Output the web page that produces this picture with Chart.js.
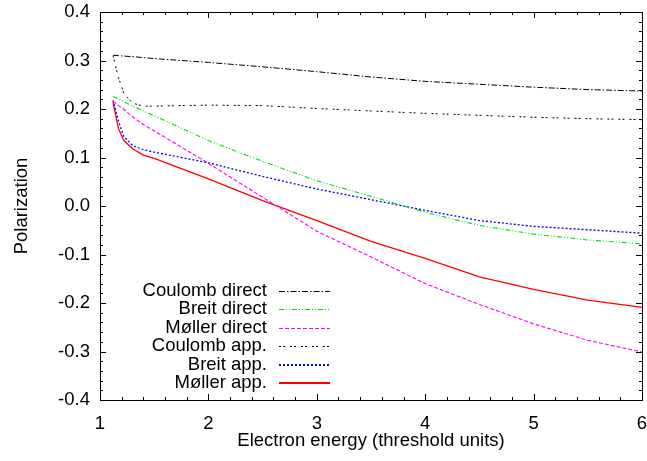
<!DOCTYPE html>
<html>
<head>
<meta charset="utf-8">
<script src="https://cdn.jsdelivr.net/npm/chart.js@4.4.1/dist/chart.umd.min.js"></script>
<style>
html,body{margin:0;padding:0;background:#fff;}
#wrap{width:647px;height:461px;}
</style>
</head>
<body>
<div id="wrap"><canvas id="c" width="647" height="461"></canvas></div>
<script>
// ---- data ----
const energy        = [1.12, 1.17, 1.22, 1.3, 1.4, 1.5, 2, 2.5, 3, 3.5, 4, 4.5, 5, 5.5, 6];
const coulombDirect = [0.311, 0.310, 0.309, 0.308, 0.306, 0.304, 0.296, 0.287, 0.277, 0.266, 0.257, 0.251, 0.245, 0.240, 0.237];
const breitDirect   = [0.226, 0.221, 0.215, 0.206, 0.196, 0.186, 0.135, 0.092, 0.052, 0.020, -0.013, -0.040, -0.058, -0.070, -0.078];
const mollerDirect  = [0.216, 0.207, 0.199, 0.184, 0.168, 0.155, 0.088, 0.018, -0.052, -0.105, -0.160, -0.203, -0.243, -0.277, -0.301];
const coulombApp    = [0.310, 0.265, 0.232, 0.212, 0.206, 0.206, 0.208, 0.207, 0.201, 0.196, 0.191, 0.187, 0.183, 0.180, 0.178];
const breitApp      = [0.218, 0.175, 0.143, 0.125, 0.116, 0.111, 0.089, 0.061, 0.035, 0.013, -0.009, -0.030, -0.042, -0.049, -0.056];
const mollerApp     = [0.214, 0.160, 0.135, 0.118, 0.105, 0.098, 0.056, 0.011, -0.030, -0.073, -0.108, -0.146, -0.172, -0.194, -0.209];
const seriesNames   = ["Coulomb direct", "Breit direct", "M\u00f8ller direct", "Coulomb app.", "Breit app.", "M\u00f8ller app."];
const xTicks        = [1, 2, 3, 4, 5, 6];
const yTicks        = [-0.4, -0.3, -0.2, -0.1, 0.0, 0.1, 0.2, 0.3, 0.4];
const xTitle        = "Electron energy (threshold units)";
const yTitle        = "Polarization";

const FONT = "'Liberation Sans', Arial, Helvetica, sans-serif";
const FSIZE = 18.5;
const seriesValues = [coulombDirect, breitDirect, mollerDirect, coulombApp, breitApp, mollerApp];
const styles = [
  {color:'#000000', dash:[6,2,1.5,2], width:1},
  {color:'#00e000', dash:[5,2,1,2,1,2], width:1.1},
  {color:'#ff00ff', dash:[4,2], width:1.1},
  {color:'#000000', dash:[2,2,2,5], width:1},
  {color:'#0000ff', dash:[2,2], width:1.3},
  {color:'#ff0000', dash:[], width:1.3}
];

const datasets = seriesValues.map((vals, i) => ({
  label: seriesNames[i],
  data: energy.map((x, j) => ({x: x, y: vals[j]})),
  borderColor: styles[i].color,
  borderDash: styles[i].dash,
  borderWidth: styles[i].width,
  pointRadius: 0,
  tension: 0,
  fill: false
}));

// frame + inward ticks (gnuplot style)
const framePlugin = {
  id: 'frame',
  afterDatasetsDraw(chart) {
    const {ctx, chartArea: a, scales: {x, y}} = chart;
    ctx.save();
    ctx.strokeStyle = '#000';
    ctx.lineWidth = 1;
    ctx.setLineDash([]);
    ctx.beginPath();
    const maj = 6, mnr = 3;
    for (let k = 0; k <= 25; k++) {
      const v = 1 + k * 0.2;
      const px = Math.round(x.getPixelForValue(v)) + 0.5;
      const L = (k % 5 === 0) ? maj : mnr;
      ctx.moveTo(px, a.bottom); ctx.lineTo(px, a.bottom - L);
      ctx.moveTo(px, a.top); ctx.lineTo(px, a.top + L);
    }
    for (let k = 0; k <= 40; k++) {
      const v = -0.4 + k * 0.02;
      const py = Math.round(y.getPixelForValue(v)) + 0.5;
      const L = (k % 5 === 0) ? maj : mnr;
      ctx.moveTo(a.left, py); ctx.lineTo(a.left + L, py);
      ctx.moveTo(a.right, py); ctx.lineTo(a.right - L, py);
    }
    ctx.stroke();
    ctx.strokeRect(Math.round(a.left) + 0.5, Math.round(a.top) + 0.5,
                   Math.round(a.right - a.left), Math.round(a.bottom - a.top));
    ctx.restore();
  }
};

// gnuplot-style legend: right-aligned text, sample line on the right
const legendPlugin = {
  id: 'gpLegend',
  afterDatasetsDraw(chart) {
    const {ctx} = chart;
    ctx.save();
    ctx.font = FSIZE + 'px ' + FONT;
    ctx.textAlign = 'right';
    ctx.textBaseline = 'middle';
    const textRight = 267, x0 = 279, x1 = 330, yStart = 291, dy = 18.4;
    chart.data.datasets.forEach((ds, i) => {
      const yy = yStart + i * dy;
      ctx.fillStyle = '#000';
      ctx.fillText(ds.label, textRight, yy);
      const w = styles[i].width > 1.2 ? 2 : 1;
      ctx.strokeStyle = styles[i].color;
      ctx.lineWidth = w;
      ctx.setLineDash(styles[i].dash);
      ctx.beginPath();
      const ly = Math.round(yy) + (w === 1 ? 0.5 : 0);
      ctx.moveTo(x0, ly);
      ctx.lineTo(x1, ly);
      ctx.stroke();
    });
    ctx.restore();
  }
};

new Chart(document.getElementById('c'), {
  type: 'line',
  data: {datasets},
  options: {
    responsive: false,
    devicePixelRatio: 1,
    animation: false,
    layout: {padding: {top: 12, right: 5, bottom: 0, left: 0}},
    plugins: {legend: {display: false}, tooltip: {enabled: false}},
    scales: {
      x: {
        type: 'linear',
        min: 1, max: 6,
        afterFit(s) { s.height = 61; s.paddingLeft = 0; s.paddingRight = 0; },
        afterBuildTicks(s) { s.ticks = xTicks.map(v => ({value: v})); },
        grid: {display: false, drawTicks: false},
        border: {display: false},
        ticks: {color: '#000', font: {family: FONT, size: FSIZE}, padding: 13, maxRotation: 0,
                callback: v => String(v)},
        title: {display: true, text: xTitle, color: '#000', font: {family: FONT, size: FSIZE},
                padding: {top: 0, bottom: 9}}
      },
      y: {
        type: 'linear',
        min: -0.4, max: 0.4,
        afterFit(s) { s.width = 100; s.paddingTop = 0; s.paddingBottom = 0; },
        afterBuildTicks(s) { s.ticks = yTicks.map(v => ({value: v})); },
        grid: {display: false, drawTicks: false},
        border: {display: false},
        ticks: {color: '#000', font: {family: FONT, size: FSIZE}, padding: 10,
                callback: v => Number(v).toFixed(1)},
        title: {display: true, text: yTitle, color: '#000', font: {family: FONT, size: FSIZE},
                padding: {top: 11, bottom: 0}}
      }
    }
  },
  plugins: [framePlugin, legendPlugin]
});
</script>
</body>
</html>
